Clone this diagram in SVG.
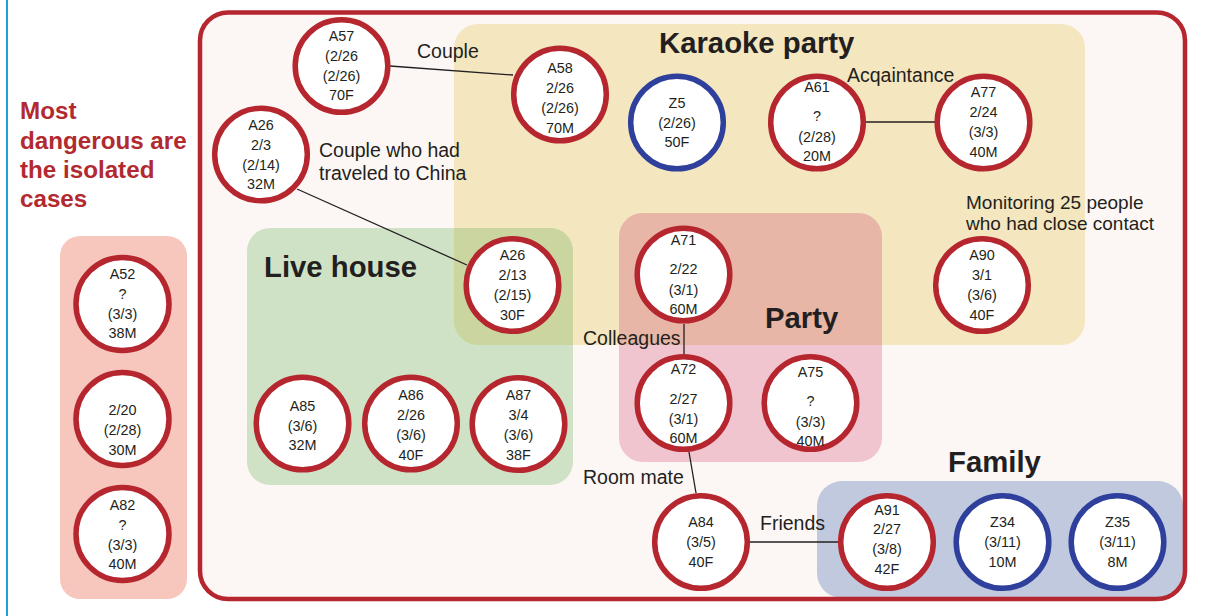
<svg xmlns="http://www.w3.org/2000/svg" width="1213" height="616" viewBox="0 0 1213 616">
<style>
.n{font-family:"Liberation Sans",Arial,sans-serif;font-size:14.4px;fill:#231f20;text-anchor:middle}
.l{font-family:"Liberation Sans",Arial,sans-serif;font-size:19.5px;fill:#231f20}
.m{font-family:"Liberation Sans",Arial,sans-serif;font-size:19px;fill:#231f20}
.g{font-family:"Liberation Sans",Arial,sans-serif;font-size:29.3px;font-weight:bold;fill:#231f20}
.t{font-family:"Liberation Sans",Arial,sans-serif;font-size:24.2px;font-weight:bold;fill:#b22a2f}
.cr{fill:#ffffff;stroke:#b5262e;stroke-width:5.5}
.cb{fill:#ffffff;stroke:#2f3f9c;stroke-width:5.5}
.e{stroke:#231f20;stroke-width:1.3;fill:none}
</style>
<defs>
<clipPath id="kc"><rect x="454" y="24" width="631" height="321" rx="24"/></clipPath>
</defs>
<rect x="0" y="0" width="1213" height="616" fill="#ffffff"/>
<line x1="7" y1="0" x2="7" y2="616" stroke="#1ba1dc" stroke-width="2"/>

<g id="title">
<text class="t" x="20" y="119">Most</text>
<text class="t" x="20" y="149">dangerous are</text>
<text class="t" x="20" y="178">the isolated</text>
<text class="t" x="20" y="207">cases</text>
</g>

<g id="isolated">
<rect x="60" y="236" width="127" height="363" rx="20" fill="#f7c6bd"/>
</g>

<rect id="frame-fill" x="200" y="12.5" width="985" height="586.5" rx="28" fill="#fcf7f5"/>

<g id="karaoke-party">
<rect x="454" y="24" width="631" height="321" rx="24" fill="#f4e6be"/>
<text class="g" x="659" y="53">Karaoke party</text>
</g>
<g id="live-house">
<rect x="247" y="228" width="326" height="257" rx="23" fill="#d0e2c5"/>
<rect x="247" y="228" width="326" height="257" rx="23" fill="#cad5a0" clip-path="url(#kc)"/>
<text class="g" x="264" y="277">Live house</text>
</g>
<g id="party">
<rect x="619" y="213" width="263" height="249" rx="24" fill="#f0c5cf"/>
<rect x="619" y="213" width="263" height="249" rx="24" fill="#e8b6a7" clip-path="url(#kc)"/>
<text class="g" x="765" y="328">Party</text>
</g>
<g id="family">
<rect x="817" y="481" width="366" height="117" rx="25" fill="#c0c9de"/>
<text class="g" x="948" y="472">Family</text>
</g>

<rect id="frame" x="200" y="12.5" width="985" height="586.5" rx="28" fill="none" stroke="#b5262e" stroke-width="4.5"/>

<g id="connectors">
<line class="e" x1="390" y1="66" x2="513" y2="75"/>
<line class="e" x1="297" y1="189" x2="467" y2="265"/>
<line class="e" x1="866" y1="122" x2="935" y2="122"/>
<line class="e" x1="684" y1="324" x2="684" y2="354"/>
<line class="e" x1="689" y1="452" x2="696" y2="493"/>
<line class="e" x1="749" y1="542" x2="838" y2="542"/>
<text class="l" x="417" y="58">Couple</text>
<text class="l" x="319" y="157">Couple who had</text>
<text class="l" x="319" y="180">traveled to China</text>
<text class="l" x="847" y="82">Acqaintance</text>
<text class="m" x="966" y="209">Monitoring 25 people</text>
<text class="m" x="966" y="230">who had close contact</text>
<text class="l" x="583" y="345">Colleagues</text>
<text class="l" x="583" y="484">Room mate</text>
<text class="l" x="760" y="530">Friends</text>
</g>

<g id="A52"><circle class="cr" cx="122.5" cy="304" r="46.5"/>
<text class="n" x="122.5" y="279">A52</text><text class="n" x="122.5" y="299">?</text><text class="n" x="122.5" y="319">(3/3)</text><text class="n" x="122.5" y="338">38M</text></g>
<g id="iso2"><circle class="cr" cx="122.5" cy="419" r="46.5"/>
<text class="n" x="122.5" y="415">2/20</text><text class="n" x="122.5" y="435">(2/28)</text><text class="n" x="122.5" y="455">30M</text></g>
<g id="A82"><circle class="cr" cx="122.5" cy="534" r="46.5"/>
<text class="n" x="122.5" y="510">A82</text><text class="n" x="122.5" y="530">?</text><text class="n" x="122.5" y="550">(3/3)</text><text class="n" x="122.5" y="569">40M</text></g>

<g id="A57"><circle class="cr" cx="341.5" cy="66" r="46.3"/>
<text class="n" x="341.5" y="41">A57</text><text class="n" x="341.5" y="61">(2/26</text><text class="n" x="341.5" y="81">(2/26)</text><text class="n" x="341.5" y="100">70F</text></g>
<g id="A58"><circle class="cr" cx="560" cy="94.5" r="46.3"/>
<text class="n" x="560" y="73">A58</text><text class="n" x="560" y="93">2/26</text><text class="n" x="560" y="113">(2/26)</text><text class="n" x="560" y="133">70M</text></g>
<g id="Z5"><circle class="cb" cx="677" cy="122.5" r="46.3"/>
<text class="n" x="677" y="108">Z5</text><text class="n" x="677" y="128">(2/26)</text><text class="n" x="677" y="147">50F</text></g>
<g id="A61"><circle class="cr" cx="817" cy="122.5" r="46.3"/>
<text class="n" x="817" y="92">A61</text><text class="n" x="817" y="121">?</text><text class="n" x="817" y="142">(2/28)</text><text class="n" x="817" y="161">20M</text></g>
<g id="A77"><circle class="cr" cx="983.5" cy="122.5" r="46.3"/>
<text class="n" x="983.5" y="97">A77</text><text class="n" x="983.5" y="117">2/24</text><text class="n" x="983.5" y="137">(3/3)</text><text class="n" x="983.5" y="157">40M</text></g>
<g id="A26a"><circle class="cr" cx="261" cy="154.5" r="46.3"/>
<text class="n" x="261" y="130">A26</text><text class="n" x="261" y="150">2/3</text><text class="n" x="261" y="170">(2/14)</text><text class="n" x="261" y="189">32M</text></g>
<g id="A26b"><circle class="cr" cx="512.5" cy="285" r="46.3"/>
<text class="n" x="512.5" y="260">A26</text><text class="n" x="512.5" y="280">2/13</text><text class="n" x="512.5" y="300">(2/15)</text><text class="n" x="512.5" y="320">30F</text></g>
<g id="A71"><circle class="cr" cx="683.5" cy="274.5" r="46.3"/>
<text class="n" x="683.5" y="245">A71</text><text class="n" x="683.5" y="274">2/22</text><text class="n" x="683.5" y="295">(3/1)</text><text class="n" x="683.5" y="314">60M</text></g>
<g id="A90"><circle class="cr" cx="982" cy="285" r="46.3"/>
<text class="n" x="982" y="260">A90</text><text class="n" x="982" y="280">3/1</text><text class="n" x="982" y="300">(3/6)</text><text class="n" x="982" y="320">40F</text></g>
<g id="A72"><circle class="cr" cx="683.5" cy="403" r="46.3"/>
<text class="n" x="683.5" y="374">A72</text><text class="n" x="683.5" y="404">2/27</text><text class="n" x="683.5" y="424">(3/1)</text><text class="n" x="683.5" y="443">60M</text></g>
<g id="A75"><circle class="cr" cx="810.5" cy="403" r="46.3"/>
<text class="n" x="810.5" y="377">A75</text><text class="n" x="810.5" y="406">?</text><text class="n" x="810.5" y="427">(3/3)</text><text class="n" x="810.5" y="446">40M</text></g>
<g id="A85"><circle class="cr" cx="302.5" cy="423.5" r="46.3"/>
<text class="n" x="302.5" y="411">A85</text><text class="n" x="302.5" y="431">(3/6)</text><text class="n" x="302.5" y="450">32M</text></g>
<g id="A86"><circle class="cr" cx="411" cy="423.5" r="46.3"/>
<text class="n" x="411" y="400">A86</text><text class="n" x="411" y="420">2/26</text><text class="n" x="411" y="440">(3/6)</text><text class="n" x="411" y="460">40F</text></g>
<g id="A87"><circle class="cr" cx="518.5" cy="424" r="46.3"/>
<text class="n" x="518.5" y="400">A87</text><text class="n" x="518.5" y="420">3/4</text><text class="n" x="518.5" y="440">(3/6)</text><text class="n" x="518.5" y="460">38F</text></g>
<g id="A84"><circle class="cr" cx="701" cy="542" r="46.3"/>
<text class="n" x="701" y="527">A84</text><text class="n" x="701" y="547">(3/5)</text><text class="n" x="701" y="567">40F</text></g>
<g id="A91"><circle class="cr" cx="887" cy="542" r="46.3"/>
<text class="n" x="887" y="515">A91</text><text class="n" x="887" y="534">2/27</text><text class="n" x="887" y="554">(3/8)</text><text class="n" x="887" y="574">42F</text></g>
<g id="Z34"><circle class="cb" cx="1002.5" cy="542" r="46.3"/>
<text class="n" x="1002.5" y="527">Z34</text><text class="n" x="1002.5" y="547">(3/11)</text><text class="n" x="1002.5" y="567">10M</text></g>
<g id="Z35"><circle class="cb" cx="1117.5" cy="542" r="46.3"/>
<text class="n" x="1117.5" y="527">Z35</text><text class="n" x="1117.5" y="547">(3/11)</text><text class="n" x="1117.5" y="567">8M</text></g>
</svg>
